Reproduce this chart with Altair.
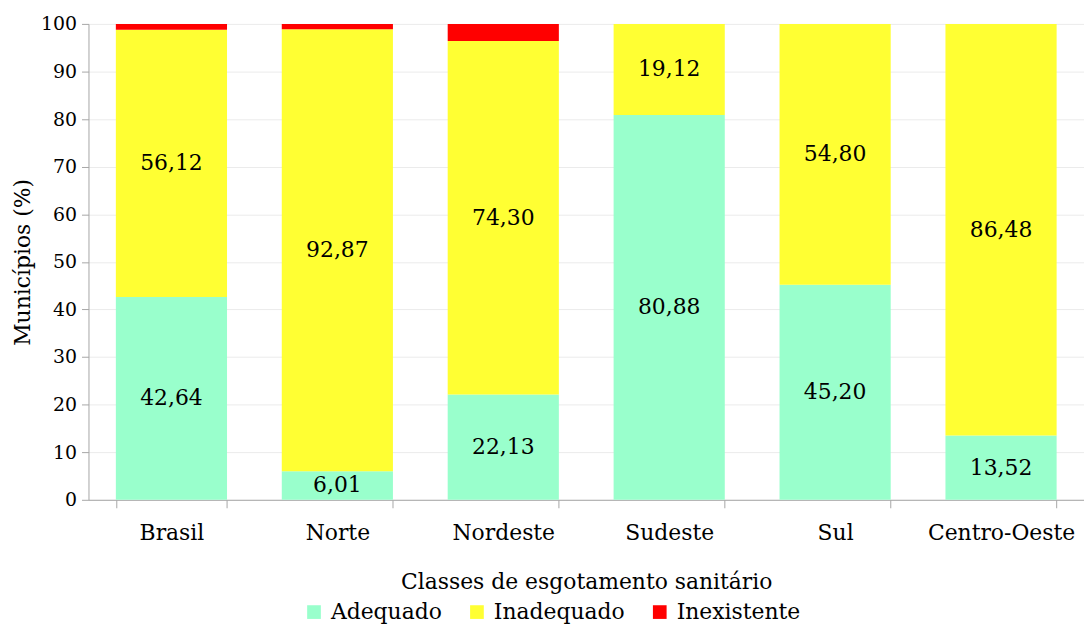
import altair as alt
import pandas as pd

regions = ["Brasil", "Norte", "Nordeste", "Sudeste", "Sul", "Centro-Oeste"]
classes = ["Adequado", "Inadequado", "Inexistente"]
adequado = [42.64, 6.01, 22.13, 80.88, 45.20, 13.52]
inadequado = [56.12, 92.87, 74.30, 19.12, 54.80, 86.48]
inexistente = [1.24, 1.12, 3.57, 0.0, 0.0, 0.0]
colors = ["#99FFCC", "#FFFF33", "#FF0000"]

rows = []
for i, r in enumerate(regions):
    for j, (c, vals) in enumerate(zip(classes, [adequado, inadequado, inexistente])):
        rows.append({"Regiao": r, "Classe": c, "ordem": j, "valor": vals[i]})
df = pd.DataFrame(rows)

FONT = "DejaVu Serif"

x_enc = alt.X(
    "Regiao:N", sort=regions,
    scale=alt.Scale(paddingInner=0.33, paddingOuter=0.165),
    axis=alt.Axis(title="Classes de esgotamento sanitário", labelAngle=0,
                  tickBand="extent", tickSize=8, labelPadding=15,
                  titlePadding=28, grid=False),
)

base = alt.Chart(df).transform_stack(
    stack="valor", groupby=["Regiao"], as_=["y0", "y1"],
    sort=[alt.SortField("ordem", order="ascending")],
)

bars = base.mark_bar().encode(
    x=x_enc,
    y=alt.Y("y0:Q", scale=alt.Scale(domain=[0, 100], nice=False),
            axis=alt.Axis(title="Municípios (%)", values=list(range(0, 101, 10)),
                          tickSize=7, labelPadding=5, titlePadding=6, grid=True)),
    y2="y1:Q",
    color=alt.Color("Classe:N", scale=alt.Scale(domain=classes, range=colors),
                    legend=alt.Legend(title=None, orient="none", direction="horizontal",
                                      legendX=216, legendY=581, columns=3,
                                      symbolType="square", symbolSize=190,
                                      symbolStrokeWidth=0, labelFontSize=22,
                                      labelFont=FONT, labelColor="#000000",
                                      columnPadding=24, labelOffset=6,
                                      labelLimit=300)),
)

labels = base.transform_filter(
    (alt.datum.Classe != "Inexistente") & (alt.datum.valor > 0)
).transform_calculate(
    mid="(datum.y0 + datum.y1) / 2",
    txt="replace(format(datum.valor, '.2f'), '.', ',')",
).mark_text(font=FONT, fontSize=22, color="#000000", baseline="middle").encode(
    x=alt.X("Regiao:N", sort=regions),
    y=alt.Y("mid:Q"),
    text="txt:N",
)

chart = alt.layer(bars, labels).properties(
    width=1002, height=479,
    autosize=alt.AutoSizeParams(type="none"),
    padding={"left": 81, "top": 14, "right": 0, "bottom": 125},
).configure(font=FONT).configure_view(stroke=None).configure_axis(
    labelFont=FONT, titleFont=FONT, labelColor="#000000", titleColor="#000000",
    titleFontWeight="normal", labelFontSize=19, titleFontSize=22,
    domainColor="#A6A6A6", tickColor="#A6A6A6", gridColor="#EBEBEB",
).configure_axisX(labelFontSize=22)

chart.save("out.html", embed_options={"renderer": "svg", "actions": False})
